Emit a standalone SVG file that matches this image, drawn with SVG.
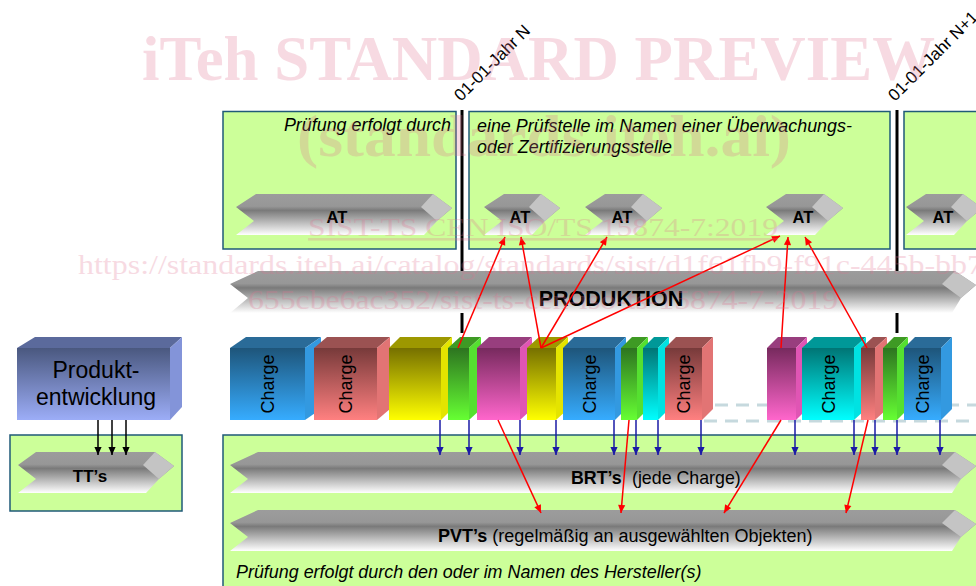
<svg xmlns="http://www.w3.org/2000/svg" width="976" height="586" viewBox="0 0 976 586">
<style>
text{font-family:"Liberation Sans",Arial,sans-serif;fill:#000}
.box{fill:#ccff99;stroke:#1f5a78;stroke-width:1.5}
.ch{fill:url(#chg)}
.fac{fill:#c4c4c4}
.lbl{font-weight:bold;text-anchor:middle}
.it{font-style:italic;font-size:17.9px}
.chg{font-size:18px;text-anchor:middle}
.red{stroke:#ff0000;stroke-width:1.5;fill:none;marker-end:url(#mr)}
.blu{stroke:#1a1aa6;stroke-width:1.5;fill:none;marker-end:url(#mb)}
.blk{stroke:#000;stroke-width:1.5;fill:none;marker-end:url(#mk)}
.sep{stroke:#000;stroke-width:3}
.dash{stroke:#c6d9de;stroke-width:3;stroke-dasharray:13 8;fill:none}
.wm{font-family:"Liberation Serif","Times New Roman",serif;fill:#e0708e;opacity:.25}
</style>
<defs>
<linearGradient id="chg" x1="0" y1="0" x2="0" y2="1">
<stop offset="0" stop-color="#9c9c9c"/><stop offset="0.3" stop-color="#979797"/><stop offset="0.4" stop-color="#7a7a7a"/><stop offset="1" stop-color="#ffffff"/>
</linearGradient>
<linearGradient id="gB" x1="0" y1="0" x2="0" y2="1"><stop offset="0" stop-color="#1e557a"/><stop offset="1" stop-color="#36acff"/></linearGradient>
<linearGradient id="gR" x1="0" y1="0" x2="0" y2="1"><stop offset="0" stop-color="#773a3a"/><stop offset="1" stop-color="#ff8080"/></linearGradient>
<linearGradient id="gY" x1="0" y1="0" x2="0" y2="1"><stop offset="0" stop-color="#767000"/><stop offset="1" stop-color="#ffff00"/></linearGradient>
<linearGradient id="gG" x1="0" y1="0" x2="0" y2="1"><stop offset="0" stop-color="#2d7420"/><stop offset="1" stop-color="#66ff33"/></linearGradient>
<linearGradient id="gM" x1="0" y1="0" x2="0" y2="1"><stop offset="0" stop-color="#772a5e"/><stop offset="1" stop-color="#ff66cc"/></linearGradient>
<linearGradient id="gC" x1="0" y1="0" x2="0" y2="1"><stop offset="0" stop-color="#007575"/><stop offset="1" stop-color="#00ffff"/></linearGradient>
<linearGradient id="gP" x1="0" y1="0" x2="0" y2="1"><stop offset="0" stop-color="#4a587f"/><stop offset="1" stop-color="#9cadf7"/></linearGradient>
<marker id="mr" viewBox="0 0 10 10" refX="10" refY="5" markerWidth="9" markerHeight="8" orient="auto" markerUnits="userSpaceOnUse"><path d="M0,0.5 L10,5 L0,9.5 z" fill="#ff0000"/></marker>
<marker id="mb" viewBox="0 0 10 10" refX="10" refY="5" markerWidth="9" markerHeight="8" orient="auto" markerUnits="userSpaceOnUse"><path d="M0,0.5 L10,5 L0,9.5 z" fill="#1a1aa6"/></marker>
<marker id="mk" viewBox="0 0 10 10" refX="10" refY="5" markerWidth="9" markerHeight="8" orient="auto" markerUnits="userSpaceOnUse"><path d="M0,0.5 L10,5 L0,9.5 z" fill="#000"/></marker>
</defs>
<rect width="976" height="586" fill="#ffffff"/>

<!-- top boxes -->
<g id="box-hersteller-top">
<rect class="box" x="223" y="111.5" width="233" height="137.5"/>
<text class="it" x="451" y="131" text-anchor="end">Prüfung erfolgt durch</text>
<polygon class="ch" points="256,194 433,194 452,208 437,221 424,235 236,235 254,221 236,207"/>
<polygon class="fac" points="433,194 452,208 437,221 421,207"/>
<text class="lbl" x="337" y="223" font-size="16.5">AT</text>
</g>
<g id="box-pruefstelle">
<rect class="box" x="469" y="111.5" width="421" height="137.5"/>
<text class="it" x="477" y="132">eine Prüfstelle im Namen einer Überwachungs-</text>
<text class="it" x="477" y="153">oder Zertifizierungsstelle</text>
<polygon class="ch" points="504,194 541,194 560,208 545,221 532,235 484,235 502,221 484,207"/>
<polygon class="fac" points="541,194 560,208 545,221 529,207"/>
<text class="lbl" x="520" y="223" font-size="16.5">AT</text>
<polygon class="ch" points="605,194 643,194 662,208 647,221 634,235 585,235 603,221 585,207"/>
<polygon class="fac" points="643,194 662,208 647,221 631,207"/>
<text class="lbl" x="622" y="223" font-size="16.5">AT</text>
<polygon class="ch" points="786,194 824,194 843,208 828,221 815,235 766,235 784,221 766,207"/>
<polygon class="fac" points="824,194 843,208 828,221 812,207"/>
<text class="lbl" x="803" y="223" font-size="16.5">AT</text>
</g>
<g id="box-next-year">
<rect class="box" x="904" y="111.5" width="80" height="137.5"/>
<polygon class="ch" points="926,194 963,194 982,208 967,221 954,235 906,235 924,221 906,207"/>
<polygon class="fac" points="963,194 982,208 967,221 951,207"/>
<text class="lbl" x="943" y="223" font-size="16.5">AT</text>
</g>

<!-- year separators -->
<g id="year-markers">
<line class="sep" x1="462" y1="110" x2="462" y2="271"/>
<line class="sep" x1="462" y1="313" x2="462" y2="333"/>
<line class="sep" x1="897" y1="110" x2="897" y2="271"/>
<line class="sep" x1="897" y1="313" x2="897" y2="333"/>
<text font-size="17" transform="translate(461,102) rotate(-45)">01-01-Jahr N</text>
<text font-size="17" transform="translate(895,102) rotate(-45)">01-01-Jahr N+1</text>
</g>

<!-- production banner -->
<g id="produktion">
<polygon class="ch" points="258,271 955,271 976,285 961,298 952,313 230,313 248,298 230,284"/>
<polygon class="fac" points="955,271 976,285 961,298 942,284"/>
<text class="lbl" x="611" y="306" font-size="21.5">PRODUKTION</text>
</g>

<!-- bottom boxes -->
<g id="box-hersteller-bottom">
<rect class="box" x="223" y="435" width="770" height="170"/>
<polygon class="ch" points="258,452 955,452 976,466 961,479 952,493 230,493 248,479 230,465"/>
<polygon class="fac" points="955,452 976,466 961,479 942,465"/>
<text x="571" y="484" font-size="17.8"><tspan font-weight="bold">BRT’s</tspan><tspan x="632">(jede Charge)</tspan></text>
<polygon class="ch" points="258,510 955,510 976,524 961,537 952,551 230,551 248,537 230,523"/>
<polygon class="fac" points="955,510 976,524 961,537 942,523"/>
<text x="438" y="542" font-size="18"><tspan font-weight="bold">PVT’s</tspan> (regelmäßig an ausgewählten Objekten)</text>
<text class="it" x="236" y="578">Prüfung erfolgt durch den oder im Namen des Hersteller(s)</text>
</g>
<g id="box-tt">
<rect class="box" x="10" y="435" width="172" height="76"/>
<polygon class="ch" points="36,452 155,452 174,466 159,479 146,493 18,493 36,479 18,465"/>
<polygon class="fac" points="155,452 174,466 159,479 143,465"/>
<text class="lbl" x="90" y="482" font-size="17">TT’s</text>
</g>

<!-- product development -->
<g id="produktentwicklung">
<rect x="17" y="348" width="153" height="72" fill="url(#gP)"/>
<polygon points="17,348 35,337 182,337 170,348" fill="#5b6a9c"/>
<polygon points="170,348 182,337 182,407 170,420" fill="#8394d9"/>
<text x="96" y="378" font-size="23" text-anchor="middle">Produkt-</text>
<text x="96" y="405" font-size="23" text-anchor="middle">entwicklung</text>
</g>

<!-- dashed continuation -->
<g id="dashes">
<line class="dash" x1="715" y1="405" x2="976" y2="405"/>
<line class="dash" x1="704" y1="421" x2="976" y2="421"/>
</g>

<!-- charges -->
<g id="charge-1"><polygon points="230,348 246,337 321,337 305,348" fill="#2a6b98"/><polygon points="305,348 321,337 321,409 305,420" fill="#3399e0"/><rect x="230" y="348" width="75" height="72" fill="url(#gB)"/><text class="chg" transform="translate(274,384) rotate(-90)">Charge</text></g>
<g id="charge-2"><polygon points="314,348 327,337 390,337 377,348" fill="#9b5252"/><polygon points="377,348 390,337 390,409 377,420" fill="#e27474"/><rect x="314" y="348" width="63" height="72" fill="url(#gR)"/><text class="chg" transform="translate(352,384) rotate(-90)">Charge</text></g>
<g id="charge-3"><polygon points="389,348 400,337 452,337 441,348" fill="#9d9800"/><polygon points="441,348 452,337 452,409 441,420" fill="#e4e400"/><rect x="389" y="348" width="52" height="72" fill="url(#gY)"/></g>
<g id="charge-4"><polygon points="448,348 460,337 481,337 469,348" fill="#3e9a24"/><polygon points="469,348 481,337 481,409 469,420" fill="#55e030"/><rect x="448" y="348" width="21" height="72" fill="url(#gG)"/></g>
<g id="charge-5"><polygon points="477,348 489,337 532,337 520,348" fill="#983e7e"/><polygon points="520,348 532,337 532,409 520,420" fill="#e055b4"/><rect x="477" y="348" width="43" height="72" fill="url(#gM)"/></g>
<g id="charge-6"><polygon points="527,348 539,337 568,337 556,348" fill="#9d9800"/><polygon points="556,348 568,337 568,409 556,420" fill="#e4e400"/><rect x="527" y="348" width="29" height="72" fill="url(#gY)"/></g>
<g id="charge-7"><polygon points="563,348 574,337 626,337 615,348" fill="#2a6b98"/><polygon points="615,348 626,337 626,409 615,420" fill="#3399e0"/><rect x="563" y="348" width="52" height="72" fill="url(#gB)"/><text class="chg" transform="translate(596,384) rotate(-90)">Charge</text></g>
<g id="charge-8"><polygon points="621,348 632,337 648,337 637,348" fill="#3e9a24"/><polygon points="637,348 648,337 648,409 637,420" fill="#55e030"/><rect x="621" y="348" width="16" height="72" fill="url(#gG)"/></g>
<g id="charge-9"><polygon points="643,348 654,337 669,337 658,348" fill="#009898"/><polygon points="658,348 669,337 669,409 658,420" fill="#00e2e2"/><rect x="643" y="348" width="15" height="72" fill="url(#gC)"/></g>
<g id="charge-10"><polygon points="665,348 676,337 713,337 702,348" fill="#9b5252"/><polygon points="702,348 713,337 713,409 702,420" fill="#e27474"/><rect x="665" y="348" width="37" height="72" fill="url(#gR)"/><text class="chg" transform="translate(690,384) rotate(-90)">Charge</text></g>
<g id="charge-11"><polygon points="767,348 778,337 807,337 796,348" fill="#983e7e"/><polygon points="796,348 807,337 807,409 796,420" fill="#e055b4"/><rect x="767" y="348" width="29" height="72" fill="url(#gM)"/></g>
<g id="charge-12"><polygon points="802,348 814,337 866,337 854,348" fill="#009898"/><polygon points="854,348 866,337 866,409 854,420" fill="#00e2e2"/><rect x="802" y="348" width="52" height="72" fill="url(#gC)"/><text class="chg" transform="translate(835,384) rotate(-90)">Charge</text></g>
<g id="charge-13"><polygon points="861,348 873,337 887,337 875,348" fill="#9b5252"/><polygon points="875,348 887,337 887,409 875,420" fill="#e27474"/><rect x="861" y="348" width="14" height="72" fill="url(#gR)"/></g>
<g id="charge-14"><polygon points="883,348 894,337 908,337 897,348" fill="#3e9a24"/><polygon points="897,348 908,337 908,409 897,420" fill="#55e030"/><rect x="883" y="348" width="14" height="72" fill="url(#gG)"/></g>
<g id="charge-15"><polygon points="904,348 915,337 952,337 941,348" fill="#2a6b98"/><polygon points="941,348 952,337 952,409 941,420" fill="#3399e0"/><rect x="904" y="348" width="37" height="72" fill="url(#gB)"/><text class="chg" transform="translate(929,384) rotate(-90)">Charge</text></g>

<!-- connectors -->
<g id="connectors">
<line class="blk" x1="98" y1="420" x2="98" y2="455"/>
<line class="blk" x1="112" y1="420" x2="112" y2="455"/>
<line class="blk" x1="126" y1="420" x2="126" y2="455"/>
<line class="blu" x1="440" y1="420" x2="440" y2="455"/>
<line class="blu" x1="469" y1="420" x2="469" y2="455"/>
<line class="blu" x1="520" y1="420" x2="520" y2="455"/>
<line class="blu" x1="556" y1="420" x2="556" y2="455"/>
<line class="blu" x1="614" y1="420" x2="614" y2="455"/>
<line class="blu" x1="636" y1="420" x2="636" y2="455"/>
<line class="blu" x1="658" y1="420" x2="658" y2="455"/>
<line class="blu" x1="701" y1="420" x2="701" y2="455"/>
<line class="blu" x1="795" y1="420" x2="795" y2="455"/>
<line class="blu" x1="854" y1="420" x2="854" y2="455"/>
<line class="blu" x1="875" y1="420" x2="875" y2="455"/>
<line class="blu" x1="897" y1="420" x2="897" y2="455"/>
<line class="blu" x1="940" y1="420" x2="940" y2="455"/>
<line class="red" x1="458" y1="348" x2="505" y2="237"/>
<line class="red" x1="541" y1="348" x2="521" y2="237"/>
<line class="red" x1="541" y1="348" x2="607" y2="237"/>
<line class="red" x1="541" y1="348" x2="780" y2="236"/>
<line class="red" x1="781" y1="348" x2="788" y2="237"/>
<line class="red" x1="867" y1="348" x2="805" y2="237"/>
<line class="red" x1="498" y1="420" x2="541" y2="513"/>
<line class="red" x1="629" y1="420" x2="621" y2="513"/>
<line class="red" x1="781" y1="420" x2="724" y2="513"/>
<line class="red" x1="868" y1="420" x2="846" y2="513"/>
</g>

<!-- watermark -->
<g id="watermark">
<text class="wm" x="142" y="80" font-size="64" font-weight="bold" textLength="793" lengthAdjust="spacingAndGlyphs">iTeh STANDARD PREVIEW</text>
<text class="wm" x="297" y="156" font-size="60" font-weight="bold" textLength="494" lengthAdjust="spacingAndGlyphs">(standards.iteh.ai)</text>
<text class="wm" x="308" y="236" font-size="26" textLength="470" lengthAdjust="spacingAndGlyphs" text-decoration="underline">SIST-TS CEN ISO/TS 15874-7:2019</text>
<text class="wm" x="78" y="274" font-size="28" textLength="905" lengthAdjust="spacingAndGlyphs">https://standards.iteh.ai/catalog/standards/sist/d1f61fb9-f91c-445b-bb7</text>
<text class="wm" x="248" y="309" font-size="28" textLength="590" lengthAdjust="spacingAndGlyphs">655cbe6ac352/sist-ts-cen-iso-ts-15874-7-2019</text>
</g>
</svg>
